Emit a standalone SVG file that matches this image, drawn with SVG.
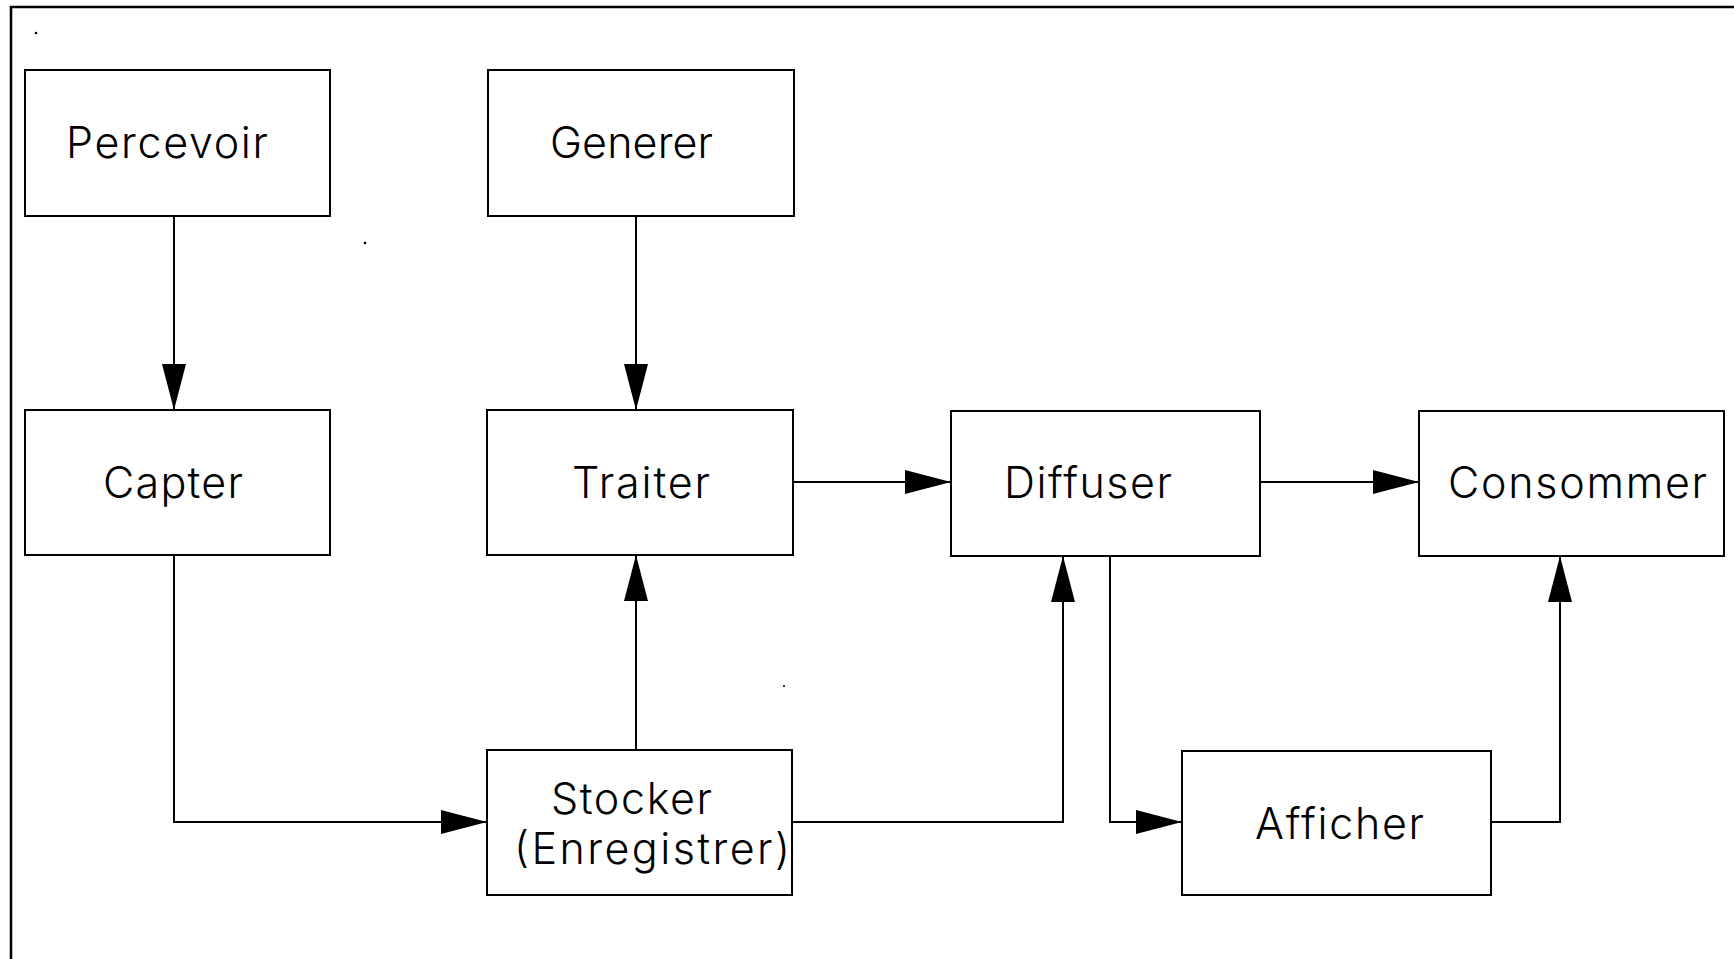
<svg xmlns="http://www.w3.org/2000/svg" width="1734" height="959" viewBox="0 0 1734 959">
<defs>
<style>
.box{fill:#fff;stroke:#000;stroke-width:2}
.lbl{font-family:Inter,"DejaVu Sans","Liberation Sans",sans-serif;font-weight:300;font-size:43px;fill:#000}
.ln{fill:none;stroke:#000;stroke-width:2}
.frame{fill:none;stroke:#000;stroke-width:2.5}
</style>
<marker id="ah" viewBox="0 0 46 24" refX="46" refY="12" markerWidth="46" markerHeight="24" markerUnits="userSpaceOnUse" orient="auto">
<polygon points="0,0 46,12 0,24" fill="#000"/>
</marker>
</defs>
<rect width="1734" height="959" fill="#fff"/>
<path class="frame" d="M11,959 L11,7 L1734,7"/>
<g fill="#000">
<circle cx="36" cy="33" r="1.3"/>
<circle cx="365" cy="243" r="1.3"/>
<circle cx="784" cy="686" r="1"/>
</g>
<g id="connectors">
<path class="ln" d="M174,216 L174,410" marker-end="url(#ah)"/>
<path class="ln" d="M636,216 L636,410" marker-end="url(#ah)"/>
<path class="ln" d="M174,555 L174,822 L487,822" marker-end="url(#ah)"/>
<path class="ln" d="M636,750 L636,555" marker-end="url(#ah)"/>
<path class="ln" d="M792,822 L1063,822 L1063,556" marker-end="url(#ah)"/>
<path class="ln" d="M793,482 L951,482" marker-end="url(#ah)"/>
<path class="ln" d="M1260,482 L1419,482" marker-end="url(#ah)"/>
<path class="ln" d="M1110,556 L1110,822 L1182,822" marker-end="url(#ah)"/>
<path class="ln" d="M1491,822 L1560,822 L1560,556" marker-end="url(#ah)"/>
</g>
<g id="percevoir"><rect class="box" x="25" y="70" width="305" height="146"/><text class="lbl" x="66" y="158" textLength="202" lengthAdjust="spacing">Percevoir</text></g>
<g id="generer"><rect class="box" x="488" y="70" width="306" height="146"/><text class="lbl" x="550" y="158" textLength="163" lengthAdjust="spacing">Generer</text></g>
<g id="capter"><rect class="box" x="25" y="410" width="305" height="145"/><text class="lbl" x="103" y="498" textLength="140" lengthAdjust="spacing">Capter</text></g>
<g id="traiter"><rect class="box" x="487" y="410" width="306" height="145"/><text class="lbl" x="572" y="498" textLength="138" lengthAdjust="spacing">Traiter</text></g>
<g id="diffuser"><rect class="box" x="951" y="411" width="309" height="145"/><text class="lbl" x="1004" y="498" textLength="168" lengthAdjust="spacing">Diffuser</text></g>
<g id="consommer"><rect class="box" x="1419" y="411" width="305" height="145"/><text class="lbl" x="1448" y="498" textLength="259" lengthAdjust="spacing">Consommer</text></g>
<g id="stocker"><rect class="box" x="487" y="750" width="305" height="145"/><text class="lbl" x="551" y="814" textLength="161" lengthAdjust="spacing">Stocker</text><text class="lbl" x="514" y="864" textLength="276" lengthAdjust="spacing">(Enregistrer)</text></g>
<g id="afficher"><rect class="box" x="1182" y="751" width="309" height="144"/><text class="lbl" x="1255" y="839" textLength="169" lengthAdjust="spacing">Afficher</text></g>
</svg>
